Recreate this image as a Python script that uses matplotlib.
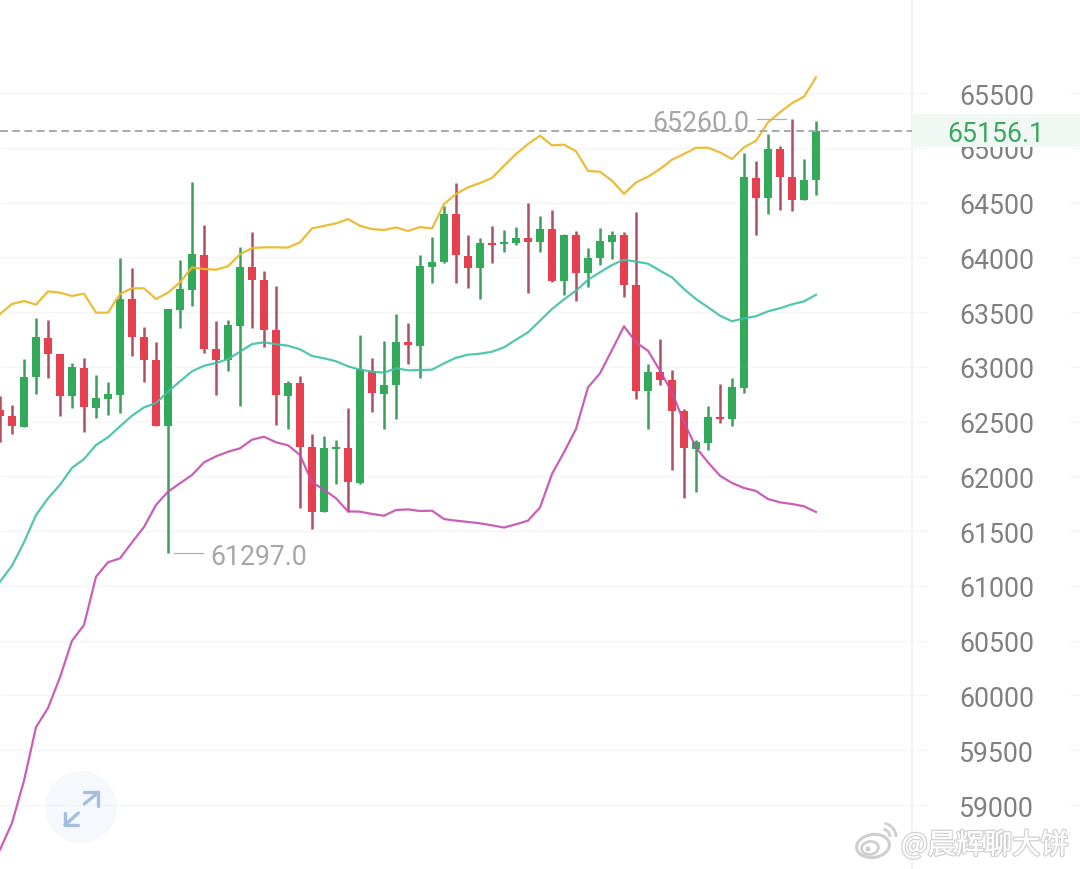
import numpy as np
import matplotlib
matplotlib.use("Agg")
import matplotlib.pyplot as plt
import matplotlib.patheffects as pe
from matplotlib.patches import Arc, Circle, Ellipse

# 蜡烛数据 (O/H/L/C)
opens = [62608, 62548, 62453, 62905, 63266, 63114, 62733, 62992, 62624, 62706,
         62740, 63616, 63272, 63062, 62456, 63519, 63704, 64021, 63163, 63062,
         63375, 63908, 63793, 63334, 62736, 62852, 62269, 61672, 62247, 62257,
         61940, 62963, 62755, 62834, 63223, 63193, 63914, 63955, 64395, 64015,
         63899, 64130, 64124, 64130, 64176, 64137, 64258, 63781, 64203, 63854,
         63991, 64142, 64203, 63747, 62777, 62953, 62880, 62597, 62253, 62305,
         62545, 62524, 62807, 64724, 64538, 64987, 64735, 64523, 64706]
highs = [62736, 62651, 63069, 63446, 63427, 63114, 63035, 63080, 62925, 62858,
         63991, 63899, 63363, 63223, 63528, 63975, 64690, 64295, 63421, 63430,
         64091, 64231, 63872, 63738, 62867, 62919, 62391, 62370, 62331, 62621,
         63288, 63080, 63233, 63482, 63397, 64018, 64182, 64471, 64675, 64206,
         64173, 64286, 64249, 64276, 64495, 64374, 64436, 64215, 64237, 64082,
         64270, 64243, 64228, 64411, 63026, 63257, 62968, 62615, 62331, 62639,
         62846, 62895, 64949, 64879, 65125, 65015, 65260, 64897, 65241]
lows = [62313, 62386, 62453, 62752, 62901, 62551, 62627, 62401, 62533, 62560,
        62578, 63101, 62858, 62462, 61297, 63357, 63558, 63123, 62743, 62960,
        62639, 63351, 63181, 62469, 62437, 61708, 61520, 61672, 61931, 61678,
        61931, 62585, 62430, 62527, 63029, 62898, 63768, 63951, 63768, 63720,
        63622, 63951, 64051, 64112, 63671, 64051, 63777, 63658, 63603, 63731,
        63928, 63985, 63635, 62706, 62437, 62837, 62061, 61805, 61855, 62244,
        62490, 62460, 62758, 64206, 64391, 64431, 64426, 64523, 64569]
closes = [62548, 62460, 62910, 63272, 63114, 62736, 62998, 62630, 62715, 62749,
          63619, 63275, 63062, 62462, 63528, 63710, 64027, 63163, 63060, 63381,
          63911, 63795, 63336, 62743, 62855, 62271, 61678, 62257, 62265, 61946,
          62980, 62761, 62837, 63223, 63199, 63920, 63957, 64395, 64021, 63902,
          64130, 64115, 64140, 64176, 64140, 64261, 63784, 64203, 63857, 63993,
          64151, 64203, 63750, 62782, 62953, 62880, 62599, 62259, 62311, 62542,
          62524, 62813, 64730, 64544, 64990, 64735, 64526, 64708, 65156.1]

# 布林带三条线
boll_upper = [63482, 63574, 63601, 63568, 63689, 63677, 63647, 63668, 63495, 63495,
              63665, 63717, 63717, 63619, 63677, 63772, 63908, 63893, 63887, 63918,
              64027, 64084, 64091, 64091, 64089, 64136, 64263, 64287, 64310, 64349,
              64287, 64258, 64249, 64273, 64240, 64276, 64263, 64486, 64578, 64639,
              64678, 64724, 64836, 64943, 65034, 65110, 65022, 65028, 64968, 64788,
              64781, 64699, 64580, 64684, 64736, 64806, 64891, 64943, 65000, 65000,
              64958, 64897, 65004, 65064, 65232, 65323, 65408, 65466, 65643]
boll_mid = [61039, 61185, 61398, 61647, 61799, 61923, 62078, 62158, 62286, 62357,
            62457, 62554, 62630, 62670, 62773, 62868, 62959, 63010, 63035, 63071,
            63138, 63208, 63224, 63207, 63193, 63160, 63099, 63078, 63051, 63005,
            62974, 62956, 62947, 62987, 62968, 62971, 62974, 63032, 63083, 63111,
            63120, 63138, 63178, 63248, 63315, 63421, 63528, 63616, 63695, 63795,
            63863, 63930, 63978, 63960, 63942, 63878, 63817, 63710, 63619, 63544,
            63467, 63416, 63443, 63462, 63507, 63535, 63571, 63598, 63658]
boll_lower = [58592, 58836, 59222, 59710, 59886, 60166, 60500, 60643, 61084, 61216,
              61252, 61398, 61538, 61739, 61860, 61937, 62013, 62128, 62183, 62225,
              62256, 62335, 62362, 62311, 62284, 62195, 61946, 61878, 61800, 61681,
              61678, 61657, 61641, 61693, 61699, 61684, 61687, 61611, 61596, 61584,
              61572, 61553, 61533, 61563, 61596, 61716, 62022, 62220, 62433, 62813,
              62941, 63154, 63370, 63224, 63147, 62965, 62767, 62494, 62265, 62128,
              62006, 61940, 61894, 61867, 61793, 61763, 61748, 61727, 61675]

price_ticks = [65500, 65000, 64500, 64000, 63500, 63000, 62500,
               62000, 61500, 61000, 60500, 60000, 59500, 59000]
last_price = 65156.1
high_price = 65260.0
low_price = 61297.0

GREEN = "#33a95a"
RED = "#e5404f"
GRID = "#f3f5f6"
LABEL_SIZE = 19.2


def price_text(ax, x, y, s, ha, color, zorder):
    # Roboto 的数字视觉中心偏高，往下挪一点
    ax.annotate(s, (x, y), xytext=(0, -2.2), textcoords="offset points", ha=ha,
                va="center", fontsize=LABEL_SIZE, color=color, zorder=zorder)


def draw_candles(ax):
    x = np.arange(len(opens))
    o, h, l, c = map(np.array, (opens, highs, lows, closes))
    up = c >= o
    ax.vlines(x[up], l[up], h[up], colors="#3a9f5c", linewidth=1.8, zorder=2)
    ax.vlines(x[~up], l[~up], h[~up], colors="#b04f60", linewidth=1.8, zorder=2)
    body = np.abs(c - o)
    ax.bar(x, body, bottom=np.minimum(o, c), width=0.66,
           color=[GREEN if u else RED for u in up], zorder=2.5)

    x = np.arange(len(boll_upper))
    ax.plot(x, boll_upper, color="#ebb92e", lw=1.6, alpha=0.95, zorder=3)
    ax.plot(x, boll_mid, color="#3fc0a6", lw=1.6, alpha=0.9, zorder=3)
    ax.plot(x, boll_lower, color="#c54db0", lw=1.6, alpha=0.9, zorder=3)


def draw_axis(ax):
    # 网格线在右侧价格文字处断开
    ax.hlines(price_ticks, 0, 928 / 12, colors=GRID, linewidth=1.0, zorder=1)
    ax.hlines(price_ticks, 1070 / 12, 90, colors=GRID, linewidth=1.0, zorder=1)
    ax.axvline(912 / 12, color="#f0f1f2", linewidth=1.2, zorder=1)
    for tick in price_ticks:
        price_text(ax, 996.5 / 12, tick, str(tick), "center", "#808080", 4)

    ax.hlines(last_price, 0, 912 / 12, colors="#a9a9a9", linewidth=1.4,
              linestyles=(0, (4.0, 2.3)), zorder=4)
    ax.axhspan(last_price - 145, last_price + 155, xmin=912 / 1080, xmax=1,
               facecolor="#f1f8f3", edgecolor="none", zorder=5)
    price_text(ax, 995.5 / 12, last_price, f"{last_price:.1f}", "center", "#3aa860", 6)

    # 最高 / 最低价标注
    ax.plot([757 / 12, 786 / 12], [high_price, high_price], color="#b0b0b0", lw=0.9, zorder=4)
    price_text(ax, 749.5 / 12, high_price, f"{high_price:.1f}", "right", "#a6a6a6", 4)
    ax.plot([174 / 12, 203 / 12], [low_price, low_price], color="#b0b0b0", lw=0.9, zorder=4)
    price_text(ax, 210.5 / 12, low_price, f"{low_price:.1f}", "left", "#a6a6a6", 4)


def draw_overlay(fig):
    # 按钮和水印用像素坐标
    top = fig.add_axes([0, 0, 1, 1], facecolor="none")
    top.set_xlim(0, 1080)
    top.set_ylim(870, 0)
    top.axis("off")

    top.add_patch(Circle((81, 808), 36, facecolor="#eef4fc", alpha=0.55, edgecolor="none"))
    arrow = dict(color="#a3bfe0", lw=2.4, solid_capstyle="round", solid_joinstyle="round")
    top.plot([84.3, 98.3], [805, 793.3], **arrow)
    top.plot([84, 98.3, 98.3], [793.3, 793.3, 806.7], **arrow)
    top.plot([78.3, 65], [814, 826], **arrow)
    top.plot([65, 65, 78.3], [814, 826, 826], **arrow)

    halo = [pe.withStroke(linewidth=2.0, foreground="#d2d2d2"), pe.Normal()]
    wm = top.text(901, 846.5, "@晨辉聊大饼", ha="left", va="center", fontsize=20.3,
                  color="white", family=["Noto Sans CJK SC", "DejaVu Sans"], zorder=8)
    wm.set_path_effects(halo)

    logo = dict(fill=False, edgecolor="#cfcfcf", zorder=8)
    top.add_patch(Ellipse((873, 847), 33, 23, angle=-8, lw=2.2, **logo))
    top.add_patch(Ellipse((870, 849), 17, 13, angle=-8, lw=2.0, **logo))
    top.add_patch(Circle((868, 850), 2.5, facecolor="#cfcfcf", edgecolor="none", zorder=8))
    top.add_patch(Arc((882, 838), 16, 16, theta1=-80, theta2=0, lw=2.0, color="#cfcfcf", zorder=8))
    top.add_patch(Arc((882, 838), 28, 28, theta1=-80, theta2=0, lw=2.0, color="#cfcfcf", zorder=8))


def main():
    plt.rcParams["font.family"] = ["Roboto", "DejaVu Sans"]

    fig = plt.figure(figsize=(10.8, 8.7), dpi=100, facecolor="white")
    ax = fig.add_axes([0, 0, 1, 1])
    ax.set_xlim(0, 90)
    ax.set_ylim(58416, 66358)
    ax.axis("off")

    draw_axis(ax)
    draw_candles(ax)
    draw_overlay(fig)

    fig.savefig("out.png", dpi=100, facecolor="white")


if __name__ == "__main__":
    main()
